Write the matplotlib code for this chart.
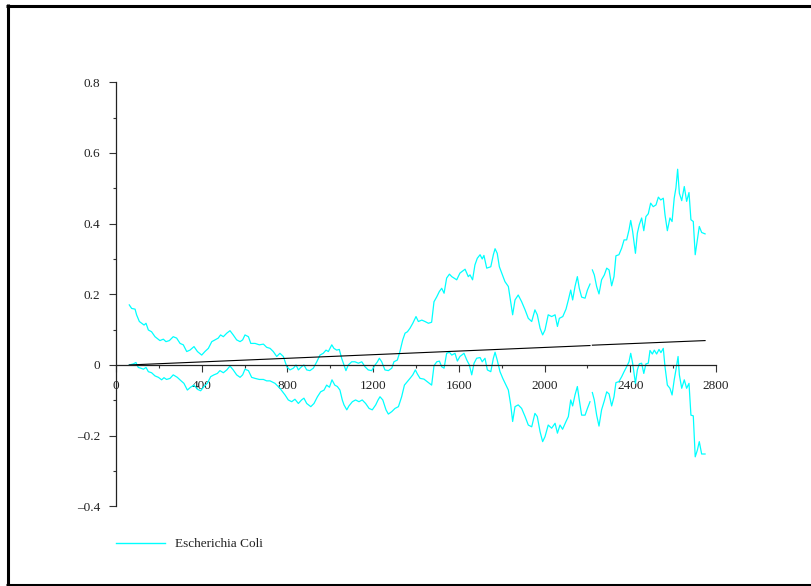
import numpy as np
import matplotlib
matplotlib.use("Agg")
import matplotlib.pyplot as plt
from matplotlib.lines import Line2D
from matplotlib.ticker import MultipleLocator, FixedLocator, FixedFormatter

# ---------------- data ----------------
upper_x = [62, 73, 89, 96, 109, 120, 131, 140, 151, 166, 182, 205, 221, 233, 249, 267, 283, 299, 314, 330,
           345, 364, 380, 400, 415, 431, 447, 462, 477, 488, 501, 517, 532, 547, 563, 579, 591, 602, 618, 629,
           649, 669, 688, 703, 719, 734, 750, 765, 781, 797, 812, 828, 840, 851, 866, 877, 890, 905, 921, 937,
           952, 967, 980, 991, 1007, 1017, 1030, 1042, 1053, 1064, 1073, 1084, 1100, 1115, 1131, 1147, 1162,
           1177, 1193, 1209, 1220, 1229, 1240, 1255, 1271, 1287, 1297, 1313, 1325, 1338, 1349, 1360, 1372,
           1385, 1400, 1411, 1427, 1442, 1458, 1473, 1484, 1497, 1509, 1520, 1531, 1543, 1556, 1567, 1590,
           1605, 1629, 1644, 1652, 1664, 1675, 1686, 1699, 1709, 1717, 1730, 1749, 1761, 1769, 1779, 1789,
           1800, 1815, 1831, 1842, 1851, 1862, 1877, 1893, 1909, 1924, 1940, 1955, 1966, 1979, 1991, 2002,
           2017, 2033, 2049, 2060, 2069, 2085, 2100, 2111, 2122, 2131, 2142, 2153, 2162, 2173, 2189, 2200,
           2212, np.nan, 2223, 2232, 2243, 2254, 2266, 2279, 2290, 2301, 2313, 2324, 2333, 2347, 2360, 2371,
           2383, 2394, 2402, 2411, 2424, 2433, 2442, 2453, 2463, 2473, 2484, 2495, 2507, 2520, 2531, 2542,
           2554, 2562, 2573, 2585, 2595, 2605, 2613, 2621, 2629, 2640, 2652, 2663, 2674, 2683, 2694, 2703,
           2713, 2722, 2733, 2749]
upper_y = [0.170, 0.160, 0.158, 0.142, 0.123, 0.118, 0.113, 0.118, 0.099, 0.094, 0.080, 0.069, 0.073, 0.066,
           0.069, 0.080, 0.076, 0.061, 0.057, 0.038, 0.042, 0.052, 0.038, 0.028, 0.038, 0.047, 0.066, 0.071,
           0.076, 0.085, 0.080, 0.090, 0.097, 0.085, 0.071, 0.066, 0.071, 0.085, 0.080, 0.061, 0.061, 0.057,
           0.059, 0.050, 0.047, 0.038, 0.024, 0.033, 0.024, -0.005, -0.014, -0.009, 0.000, -0.014, -0.005,
           0.000, -0.014, -0.016, -0.009, 0.009, 0.028, 0.033, 0.042, 0.038, 0.057, 0.047, 0.042, 0.044,
           0.019, 0.000, -0.016, 0.000, 0.009, 0.009, 0.005, 0.009, -0.005, -0.014, -0.016, 0.000, 0.009,
           0.019, 0.009, -0.014, -0.016, -0.009, 0.009, 0.014, 0.038, 0.071, 0.090, 0.094, 0.104, 0.118,
           0.137, 0.123, 0.127, 0.123, 0.118, 0.121, 0.179, 0.193, 0.208, 0.217, 0.203, 0.246, 0.257, 0.250,
           0.241, 0.260, 0.271, 0.250, 0.255, 0.241, 0.283, 0.302, 0.312, 0.300, 0.310, 0.274, 0.278, 0.312,
           0.329, 0.316, 0.278, 0.260, 0.236, 0.222, 0.179, 0.142, 0.184, 0.198, 0.179, 0.156, 0.132, 0.123,
           0.156, 0.142, 0.104, 0.085, 0.099, 0.142, 0.137, 0.142, 0.109, 0.132, 0.137, 0.158, 0.184, 0.212,
           0.184, 0.222, 0.250, 0.217, 0.192, 0.189, 0.212, 0.229, np.nan, 0.269, 0.255, 0.222, 0.201, 0.241,
           0.255, 0.274, 0.269, 0.224, 0.250, 0.309, 0.312, 0.331, 0.354, 0.354, 0.382, 0.409, 0.378, 0.316,
           0.373, 0.397, 0.416, 0.380, 0.420, 0.428, 0.458, 0.448, 0.453, 0.475, 0.467, 0.472, 0.425, 0.380,
           0.416, 0.406, 0.472, 0.501, 0.554, 0.486, 0.465, 0.505, 0.463, 0.488, 0.411, 0.406, 0.312, 0.354,
           0.392, 0.375, 0.371]

lower_x = [62, 81, 93, 104, 115, 128, 140, 151, 166, 182, 198, 213, 224, 236, 252, 267, 286, 302, 317, 333,
           348, 364, 380, 395, 411, 426, 442, 457, 473, 485, 501, 517, 532, 547, 563, 579, 591, 602, 618, 633,
           649, 669, 688, 703, 719, 742, 765, 789, 804, 820, 835, 851, 866, 877, 890, 909, 924, 940, 955, 971,
           983, 996, 1008, 1021, 1033, 1045, 1056, 1064, 1077, 1087, 1103, 1118, 1134, 1149, 1165, 1181, 1196,
           1212, 1223, 1232, 1245, 1260, 1271, 1287, 1302, 1318, 1333, 1346, 1360, 1372, 1385, 1397, 1406,
           1419, 1437, 1458, 1473, 1484, 1497, 1509, 1520, 1531, 1543, 1556, 1567, 1582, 1593, 1605, 1624,
           1637, 1649, 1660, 1671, 1683, 1699, 1709, 1722, 1733, 1749, 1761, 1769, 1779, 1792, 1805, 1820,
           1831, 1842, 1851, 1862, 1877, 1893, 1909, 1924, 1940, 1955, 1966, 1979, 1991, 2002, 2017, 2033,
           2049, 2060, 2072, 2084, 2100, 2111, 2122, 2131, 2142, 2153, 2162, 2173, 2189, 2200, 2212, np.nan,
           2223, 2232, 2243, 2254, 2266, 2279, 2290, 2301, 2313, 2324, 2333, 2347, 2360, 2371, 2383, 2394,
           2402, 2411, 2424, 2433, 2442, 2453, 2463, 2473, 2484, 2492, 2503, 2512, 2523, 2534, 2543, 2554,
           2562, 2573, 2585, 2595, 2605, 2613, 2623, 2629, 2640, 2652, 2663, 2674, 2683, 2694, 2703, 2713,
           2722, 2733, 2749]
lower_y = [0.000, 0.003, 0.007, -0.007, -0.009, -0.012, -0.007, -0.019, -0.022, -0.031, -0.035, -0.042,
           -0.036, -0.041, -0.038, -0.028, -0.035, -0.044, -0.052, -0.071, -0.063, -0.057, -0.069, -0.073,
           -0.061, -0.052, -0.033, -0.028, -0.024, -0.016, -0.022, -0.014, -0.003, -0.014, -0.028, -0.035,
           -0.028, -0.012, -0.016, -0.035, -0.038, -0.041, -0.041, -0.045, -0.045, -0.052, -0.066, -0.085,
           -0.099, -0.104, -0.097, -0.109, -0.099, -0.094, -0.109, -0.118, -0.109, -0.090, -0.076, -0.071,
           -0.057, -0.063, -0.042, -0.057, -0.061, -0.071, -0.099, -0.113, -0.127, -0.116, -0.104, -0.099,
           -0.104, -0.099, -0.109, -0.123, -0.127, -0.113, -0.099, -0.090, -0.099, -0.127, -0.139, -0.132,
           -0.123, -0.118, -0.090, -0.057, -0.047, -0.038, -0.028, -0.014, -0.025, -0.038, -0.040, -0.050,
           -0.057, -0.002, 0.009, 0.011, -0.005, -0.009, 0.033, 0.036, 0.028, 0.033, 0.011, 0.024, 0.033,
           0.014, 0.000, -0.028, 0.005, 0.019, 0.021, 0.009, 0.019, -0.014, -0.019, 0.019, 0.036, 0.014,
           -0.019, -0.038, -0.057, -0.071, -0.113, -0.160, -0.118, -0.113, -0.123, -0.146, -0.170, -0.175,
           -0.137, -0.146, -0.189, -0.217, -0.203, -0.170, -0.179, -0.165, -0.193, -0.170, -0.182, -0.160,
           -0.146, -0.099, -0.116, -0.085, -0.061, -0.099, -0.142, -0.142, -0.123, -0.104, np.nan, -0.078,
           -0.099, -0.142, -0.173, -0.127, -0.101, -0.076, -0.082, -0.116, -0.090, -0.050, -0.047, -0.033,
           -0.019, -0.005, 0.009, 0.033, 0.005, -0.052, -0.014, 0.003, 0.005, -0.024, 0.003, 0.005, 0.041,
           0.031, 0.042, 0.031, 0.044, 0.035, 0.047, -0.005, -0.057, -0.066, -0.085, -0.042, -0.014, 0.024,
           -0.028, -0.066, -0.042, -0.066, -0.052, -0.142, -0.144, -0.260, -0.241, -0.217, -0.252, -0.252]

trend_x = [62, 2212, np.nan, 2223, 2749]
trend_y = [0.000, 0.055, np.nan, 0.056, 0.069]

x_ticks = [0, 400, 800, 1200, 1600, 2000, 2400, 2800]
x_tick_labels = ["0", "400", "800", "1200", "1600", "2000", "2400", "2800"]
y_ticks = [-0.4, -0.2, 0.0, 0.2, 0.4, 0.6, 0.8]
y_tick_labels = ["\u20130.4", "\u20130.2", "0", "0.2", "0.4", "0.6", "0.8"]
legend_label = "Escherichia Coli"

# ---------------- figure ----------------
W, H = 811, 586
fig = plt.figure(figsize=(W / 100, H / 100), dpi=100)
fig.patch.set_facecolor("white")
font = "Liberation Serif"

ax = fig.add_axes([116 / W, (H - 506.3) / H, 600 / W, (506.3 - 82.3) / H])
ax.set_facecolor("none")

cyan = "#00ffff"
ax.plot(upper_x, upper_y, color=cyan, lw=0.9, label=legend_label)
ax.plot(lower_x, lower_y, color=cyan, lw=0.9)
ax.plot(trend_x, trend_y, color="black", lw=0.8)

ax.set_xlim(0, 2800)
ax.set_ylim(-0.4, 0.8)

for s in ["top", "right"]:
    ax.spines[s].set_visible(False)
ax.spines["bottom"].set_position(("data", 0))
for s in ["left", "bottom"]:
    ax.spines[s].set_linewidth(0.9)
    ax.spines[s].set_color("#222222")

ax.xaxis.set_major_locator(FixedLocator(x_ticks))
ax.xaxis.set_major_formatter(FixedFormatter(x_tick_labels))
ax.xaxis.set_minor_locator(MultipleLocator(200))
ax.yaxis.set_major_locator(FixedLocator(y_ticks))
ax.yaxis.set_major_formatter(FixedFormatter(y_tick_labels))
ax.yaxis.set_minor_locator(MultipleLocator(0.1))

ax.tick_params(axis="both", which="major", direction="out", length=4.8, width=0.8,
               color="#333333", labelsize=9.5, labelcolor="#222222")
ax.tick_params(axis="both", which="minor", direction="out", length=2.5, width=0.8, color="#333333")
ax.tick_params(axis="x", which="major", pad=6)
ax.tick_params(axis="y", which="major", pad=6.5)
for lab in ax.get_xticklabels() + ax.get_yticklabels():
    lab.set_fontfamily(font)

leg = fig.legend(handles=[Line2D([], [], color=cyan, lw=1.0)], labels=[legend_label],
                 loc="center left", bbox_to_anchor=(116 / W, 1 - 544 / H), frameon=False,
                 handlelength=3.75, handletextpad=0.75, borderpad=0, borderaxespad=0,
                 prop={"family": font, "size": 9.5})
for t in leg.get_texts():
    t.set_color("#222222")

# figure border (left, top, bottom)
bw = 2.2
fig.add_artist(Line2D([7.5 / W, 7.5 / W], [1 - 4 / H, 1 - 586 / H], color="black", lw=bw,
                      transform=fig.transFigure, solid_capstyle="butt"))
fig.add_artist(Line2D([6 / W, 1.0], [1 - 5.5 / H, 1 - 5.5 / H], color="black", lw=bw,
                      transform=fig.transFigure, solid_capstyle="butt"))
fig.add_artist(Line2D([6 / W, 1.0], [1 - 585 / H, 1 - 585 / H], color="black", lw=bw,
                      transform=fig.transFigure, solid_capstyle="butt"))

fig.savefig("out.png", dpi=100)
